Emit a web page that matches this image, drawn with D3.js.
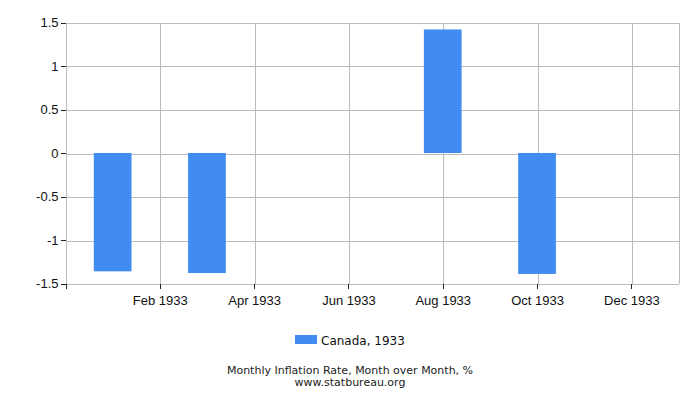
<!DOCTYPE html>
<html lang="en">
<head>
    <meta charset="UTF-8">
    <script src="https://d3js.org/d3.v7.min.js"></script>
    <title>Monthly Inflation Rate, Canada 1933</title>
    <style>
        body {
            margin: 0;
            font-family: "DejaVu Sans", sans-serif;
            background: #fff;
        }
        .grid line {
            stroke: #bbb;
            shape-rendering: crispEdges;
        }
        .axis text {
            font-size: 13px;
            fill: #111;
        }
        .axis line {
            stroke: #222;
            shape-rendering: crispEdges;
        }
        .axis path {
            display: none;
        }
    </style>
</head>
<body>
    <div id="chart"></div>

    <script>
        // Month over month inflation, %
        const months = ["Jan", "Feb", "Mar", "Apr", "May", "Jun", "Jul", "Aug", "Sep", "Oct", "Nov", "Dec"];
        const values = [-1.36, 0, -1.38, 0, 0, 0, 0, 1.42, 0, -1.39, 0, 0];
        const year = 1933;
        const yTicks = [-1.5, -1, -0.5, 0, 0.5, 1, 1.5];
        const xTickMonths = [1, 3, 5, 7, 9, 11]; // Feb, Apr, Jun, Aug, Oct, Dec
        const seriesName = "Canada, 1933";
        const title = "Monthly Inflation Rate, Month over Month, %";
        const source = "www.statbureau.org";

        const width = 700, height = 400;
        const margin = { top: 22.5, right: 21.5, bottom: 116.5, left: 65.5 };
        const plotW = width - margin.left - margin.right;
        const plotH = height - margin.top - margin.bottom;

        const svg = d3.select("#chart")
            .append("svg")
            .attr("width", width)
            .attr("height", height);

        const g = svg.append("g")
            .attr("transform", `translate(${margin.left},${margin.top})`);

        // month index scale, one empty slot either side
        const x = d3.scaleLinear().domain([-1, 12]).range([0, plotW]);
        const y = d3.scaleLinear().domain([-1.5, 1.5]).range([plotH, 0]);

        // gridlines
        const grid = g.append("g").attr("class", "grid");
        grid.selectAll(".h")
            .data(yTicks)
            .join("line")
            .attr("x1", 0).attr("x2", plotW)
            .attr("y1", d => Math.round(y(d)) + 0.5)
            .attr("y2", d => Math.round(y(d)) + 0.5);
        grid.selectAll(".v")
            .data([-1, ...xTickMonths, 12])
            .join("line")
            .attr("x1", d => Math.round(x(d)) + 0.5)
            .attr("x2", d => Math.round(x(d)) + 0.5)
            .attr("y1", 0).attr("y2", plotH);

        // bars
        const barW = (x(1) - x(0)) * 0.8;
        g.selectAll("rect.bar")
            .data(values.map((v, i) => ({ i, v })).filter(d => d.v !== 0))
            .join("rect")
            .attr("class", "bar")
            .attr("x", d => x(d.i) - barW / 2)
            .attr("width", barW)
            .attr("y", d => y(Math.max(0, d.v)))
            .attr("height", d => Math.abs(y(d.v) - y(0)))
            .attr("fill", "#418cf0");

        // y axis (plain hyphen for negatives, like the original)
        g.append("g")
            .attr("class", "axis")
            .call(d3.axisLeft(y).tickValues(yTicks).tickSize(5).tickPadding(2)
                .tickFormat(d => String(d)));

        // x axis
        g.append("g")
            .attr("class", "axis")
            .attr("transform", `translate(0,${plotH})`)
            .call(d3.axisBottom(x).tickValues([-1, ...xTickMonths]).tickSize(5).tickPadding(7)
                .tickFormat(d => d < 0 ? "" : `${months[d]} ${year}`));

        // legend
        const legend = svg.append("g")
            .attr("transform", `translate(${width / 2 - 55},335)`);
        legend.append("rect")
            .attr("width", 22).attr("height", 9)
            .attr("fill", "#418cf0");
        legend.append("text")
            .attr("x", 26).attr("y", 10)
            .attr("font-size", 12)
            .attr("fill", "#111")
            .text(seriesName);

        // caption
        svg.append("text")
            .attr("x", width / 2).attr("y", 374)
            .attr("text-anchor", "middle")
            .attr("font-size", 11)
            .attr("fill", "#222")
            .text(title);
        svg.append("text")
            .attr("x", width / 2).attr("y", 386)
            .attr("text-anchor", "middle")
            .attr("font-size", 11)
            .attr("fill", "#222")
            .text(source);
    </script>
</body>
</html>
